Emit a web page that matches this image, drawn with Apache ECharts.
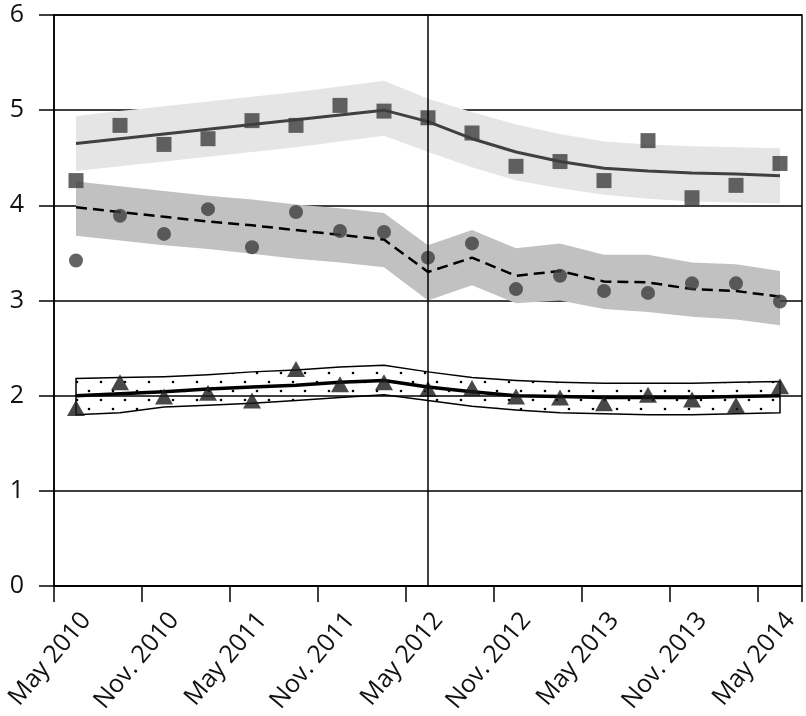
<!DOCTYPE html>
<html>
<head>
<meta charset="utf-8">
<style>html,body{margin:0;padding:0;background:#fff;}#chart{width:806px;height:716px;}</style>
<script src="https://cdn.jsdelivr.net/npm/echarts@6/dist/echarts.min.js"></script>
</head>
<body>
<div id="chart"></div>
<script>
// Categories (quarterly survey waves)
const categories = ['May 2010','Aug. 2010','Nov. 2010','Feb. 2011','May 2011','Aug. 2011','Nov. 2011','Feb. 2012',
  'May 2012','Aug. 2012','Nov. 2012','Feb. 2013','May 2013','Aug. 2013','Nov. 2013','Feb. 2014','May 2014'];

// Series 1: squares, fitted trend and band
const squares = [4.26,4.84,4.64,4.70,4.89,4.84,5.05,4.99,4.92,4.76,4.41,4.46,4.26,4.68,4.08,4.21,4.44];
const trend1  = [4.65,4.70,4.75,4.80,4.85,4.90,4.95,5.00,4.88,4.70,4.56,4.46,4.39,4.36,4.34,4.33,4.31];
const upper1  = [4.94,4.99,5.04,5.09,5.14,5.19,5.25,5.31,5.12,4.98,4.85,4.75,4.67,4.64,4.62,4.61,4.60];
const lower1  = [4.36,4.41,4.46,4.51,4.56,4.61,4.67,4.73,4.56,4.40,4.26,4.18,4.11,4.07,4.04,4.03,4.02];

// Series 2: circles, dashed trend and band
const circles = [3.42,3.89,3.70,3.96,3.56,3.93,3.73,3.72,3.45,3.60,3.12,3.26,3.10,3.08,3.18,3.18,2.99];
const trend2  = [3.98,3.93,3.88,3.83,3.79,3.74,3.69,3.64,3.30,3.45,3.26,3.31,3.20,3.19,3.12,3.10,3.04];
const upper2  = [4.25,4.20,4.15,4.10,4.06,4.01,3.97,3.92,3.58,3.74,3.55,3.60,3.48,3.48,3.40,3.38,3.31];
const lower2  = [3.68,3.63,3.58,3.54,3.49,3.44,3.40,3.35,3.00,3.16,2.97,3.00,2.91,2.88,2.83,2.80,2.74];

// Series 3: triangles, thick trend and dotted band
const triangles = [1.87,2.14,1.99,2.03,1.95,2.28,2.12,2.14,2.07,2.08,1.99,1.98,1.92,2.01,1.96,1.90,2.10];
const trend3  = [2.00,2.02,2.04,2.07,2.09,2.11,2.14,2.16,2.09,2.04,2.00,1.99,1.98,1.98,1.98,1.99,2.00];
const upper3  = [2.18,2.19,2.20,2.22,2.25,2.27,2.30,2.32,2.25,2.19,2.16,2.14,2.13,2.13,2.13,2.14,2.15];
const lower3  = [1.80,1.82,1.88,1.90,1.92,1.95,1.98,2.01,1.95,1.89,1.85,1.82,1.81,1.80,1.80,1.81,1.82];

const yTicks = {min: 0, max: 6, interval: 1};
const markerCategory = 'May 2012';

// label anchors (in category units) for every second category
const labelShift = 0.73;
const labelValues = categories.map((c, i) => i).filter(i => i % 2 === 0).map(i => i + labelShift);

// dotted texture for band 3
const pat = document.createElement('canvas');
pat.width = 24; pat.height = 18;
const pctx = pat.getContext('2d');
pctx.fillStyle = '#000';
pctx.beginPath(); pctx.arc(5, 4, 1.3, 0, Math.PI*2); pctx.fill();
pctx.beginPath(); pctx.arc(17, 13, 1.3, 0, Math.PI*2); pctx.fill();

function bandSeries(up, lo, style) {
  return {
    type: 'custom',
    z: 1,
    silent: true,
    data: categories.map((c, i) => [i, lo[i], up[i]]),
    encode: {x: 0, y: [1, 2]},
    renderItem: function (params, api) {
      if (params.dataIndex !== 0) return null;
      const pts = [];
      for (let i = 0; i < up.length; i++) pts.push(api.coord([i, up[i]]));
      for (let i = lo.length - 1; i >= 0; i--) pts.push(api.coord([i, lo[i]]));
      return {type: 'polygon', shape: {points: pts}, style: style};
    }
  };
}

const chart = echarts.init(document.getElementById('chart'));
const font = '"Open Sans", "Noto Sans", sans-serif';
chart.setOption({
  animation: false,
  backgroundColor: '#fff',
  grid: {left: 54, right: 4, top: 15, bottom: 130, containLabel: false, outerBoundsMode: 'none',
         show: true, borderColor: '#000', borderWidth: 1.5},
  xAxis: [{
    type: 'category',
    data: categories,
    boundaryGap: true,
    axisLine: {lineStyle: {color: '#000', width: 1.5}},
    axisTick: {show: true, length: 16, lineStyle: {color: '#000', width: 1.5}},
    axisLabel: {show: false},
    splitLine: {show: false}
  }, {
    type: 'value',
    position: 'bottom',
    min: 0, max: categories.length,
    axisLine: {show: false},
    axisTick: {show: false},
    splitLine: {show: false},
    axisLabel: {
      show: true, rotate: 50, margin: 30, fontSize: 25, fontFamily: font, color: '#111',
      customValues: labelValues,
      formatter: function (v) { return categories[Math.floor(v + 1e-6)] || ''; }
    }
  }],
  yAxis: {
    type: 'value',
    min: yTicks.min, max: yTicks.max, interval: yTicks.interval,
    axisLine: {show: true, lineStyle: {color: '#000', width: 1.5}},
    axisTick: {show: true, length: 15, lineStyle: {color: '#000', width: 1.5}},
    axisLabel: {margin: 30, fontSize: 25, fontFamily: font, color: '#111'},
    splitLine: {show: true, lineStyle: {color: '#000', width: 1.5}}
  },
  series: [
    bandSeries(upper1, lower1, {fill: '#e5e5e5', stroke: null}),
    bandSeries(upper2, lower2, {fill: '#c1c1c1', stroke: null}),
    bandSeries(upper3, lower3, {fill: {image: pat, repeat: 'repeat'}, stroke: '#000', lineWidth: 1.5}),
    {
      type: 'line', data: [], z: 2, silent: true,
      markLine: {
        silent: true, symbol: ['none', 'none'], label: {show: false},
        lineStyle: {color: '#000', width: 1.5, type: 'solid'},
        data: [{xAxis: markerCategory}]
      }
    },
    {type: 'line', data: trend1, z: 3, symbol: 'none', lineStyle: {color: '#404040', width: 3}},
    {type: 'line', data: trend2, z: 3, symbol: 'none', lineStyle: {color: '#000', width: 2.5, type: [11, 6]}},
    {type: 'line', data: trend3, z: 3, symbol: 'none', lineStyle: {color: '#000', width: 3.5}},
    {type: 'scatter', data: squares, z: 4, symbol: 'rect', symbolSize: 15, itemStyle: {color: '#3d3d3d'}},
    {type: 'scatter', data: circles, z: 4, symbol: 'circle', symbolSize: 14, itemStyle: {color: '#3d3d3d'}},
    {type: 'scatter', data: triangles, z: 4, symbol: 'triangle', symbolSize: [18, 16], itemStyle: {color: '#1a1a1a'}}
  ]
});
</script>
</body>
</html>
